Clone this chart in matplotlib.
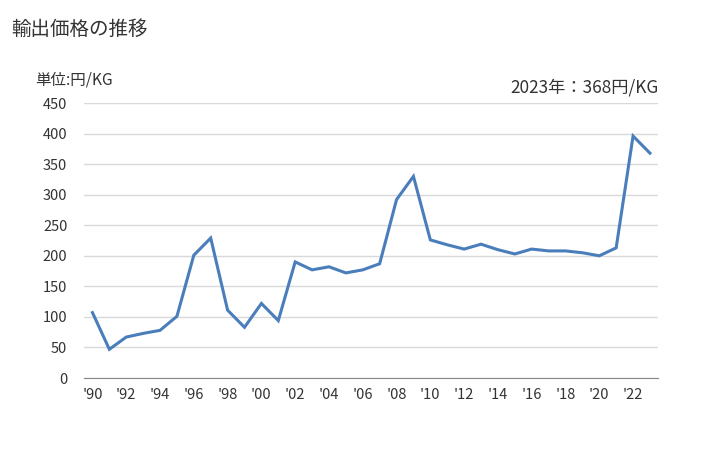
import matplotlib
matplotlib.use("Agg")
import matplotlib.pyplot as plt

plt.rcParams["font.family"] = ["Noto Sans CJK JP", "DejaVu Sans"]

years = list(range(1990, 2024))
prices = [107, 47, 67, 73, 78, 101, 201, 229, 111, 83,
          122, 94, 190, 177, 182, 172, 177, 187, 292, 330,
          226, 218, 211, 219, 210, 203, 211, 208, 208, 205,
          200, 213, 396, 368]
tick_years = list(range(1990, 2024, 2))
tick_labels = ["'" + str(y)[2:] for y in tick_years]
yticks = list(range(0, 451, 50))

fig = plt.figure(figsize=(7.28, 4.5), dpi=100)
ax = fig.add_axes([0.1154, 0.16, 0.789, 0.611])

ax.plot(years, prices, color="#4a7ebb", linewidth=2.2, solid_joinstyle="miter")

ax.set_xlim(1989.5, 2023.5)
ax.set_ylim(0, 450)
ax.set_yticks(yticks)
ax.set_xticks(tick_years)
ax.set_xticklabels(tick_labels)
ax.grid(axis="y", color="#d9d9d9", linewidth=1)
ax.set_axisbelow(True)
for s in ["top", "right", "left"]:
    ax.spines[s].set_visible(False)
ax.spines["bottom"].set_color("#888888")
ax.tick_params(axis="both", length=0, labelsize=10.5, colors="#333333")
ax.tick_params(axis="y", pad=12)
ax.tick_params(axis="x", pad=7)

fig.text(0.016, 0.935, "輸出価格の推移", fontsize=14, color="#333333", va="center")
fig.text(0.048, 0.822, "単位:円/KG", fontsize=11.2, color="#333333", va="center")
fig.text(0.904, 0.805, "2023年：368円/KG", fontsize=12.4, color="#333333",
         va="center", ha="right")

fig.savefig("out.png", dpi=100)
